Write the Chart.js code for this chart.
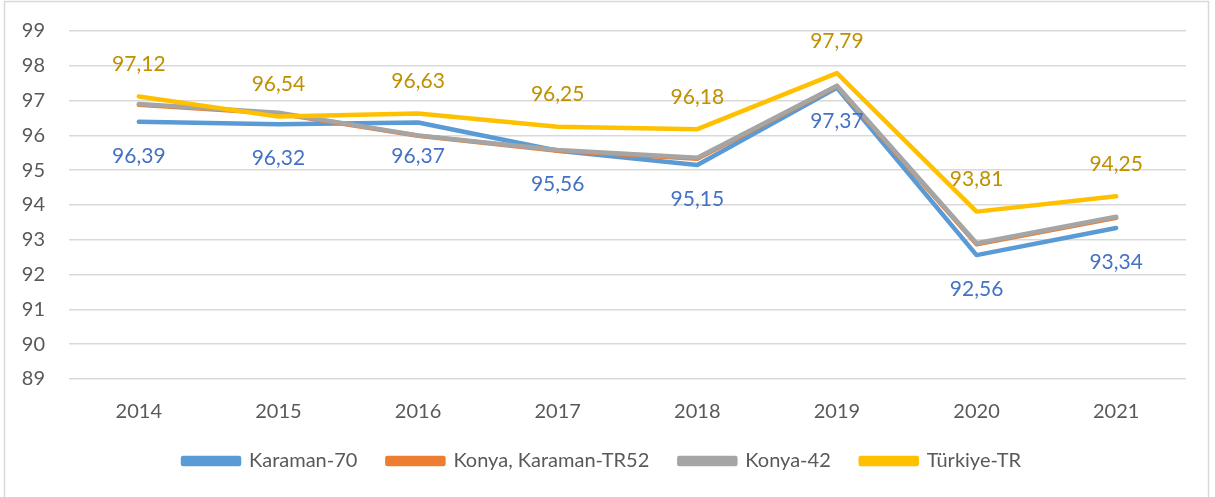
<!DOCTYPE html>
<html>
<head>
<meta charset="utf-8">
<script src="https://cdn.jsdelivr.net/npm/chart.js@4/dist/chart.umd.min.js"></script>
<style>
  html, body { margin: 0; padding: 0; background: #fff; }
  #wrap { width: 1215px; height: 497px; }
</style>
</head>
<body>
<div id="wrap"><canvas id="chart"></canvas></div>
<script>
const years = ["2014", "2015", "2016", "2017", "2018", "2019", "2020", "2021"];
const karaman = [96.39, 96.32, 96.37, 95.56, 95.15, 97.37, 92.56, 93.34];
const tr52 = [96.88, 96.63, 95.99, 95.56, 95.33, 97.41, 92.87, 93.63];
const konya = [96.90, 96.65, 96.00, 95.58, 95.36, 97.43, 92.90, 93.66];
const turkiye = [97.12, 96.54, 96.63, 96.25, 96.18, 97.79, 93.81, 94.25];

const FONT = "Lato, 'Open Sans', sans-serif";

/* white page + thin frame round the whole chart */
const frame = {
  id: "frame",
  beforeDraw(chart) {
    const c = chart.ctx;
    c.save();
    c.fillStyle = "#fff";
    c.fillRect(0, 0, chart.width, chart.height);
    c.strokeStyle = "#d9d9d9";
    c.lineWidth = 1.5;
    c.strokeRect(4.5, 1.5, 1204, 500);
    c.restore();
  }
};

/* value labels, above or below the points, comma decimals */
const valueLabels = {
  id: "valueLabels",
  afterDatasetsDraw(chart) {
    const c = chart.ctx;
    c.save();
    c.font = "21px " + FONT;
    c.textAlign = "center";
    c.textBaseline = "middle";
    chart.data.datasets.forEach((ds, i) => {
      if (!ds.labelPos) return;
      const meta = chart.getDatasetMeta(i);
      c.fillStyle = ds.labelColor;
      meta.data.forEach((pt, j) => {
        const txt = ds.data[j].toFixed(2).replace(".", ",");
        const dy = ds.labelPos === "above" ? -32 : 34;
        c.fillText(txt, pt.x, pt.y + dy);
      });
    });
    c.restore();
  }
};

function line(label, data, color, order) {
  return {
    label, data,
    borderColor: color,
    backgroundColor: color,
    borderWidth: 4.5,
    borderCapStyle: "round",
    borderJoinStyle: "round",
    pointRadius: 0,
    tension: 0,
    order
  };
}

const datasets = [
  Object.assign(line("Karaman-70", karaman, "#5b9bd5", 4), { labelPos: "below", labelColor: "#4472c4" }),
  line("Konya, Karaman-TR52", tr52, "#ed7d31", 3),
  line("Konya-42", konya, "#a5a5a5", 2),
  Object.assign(line("Türkiye-TR", turkiye, "#ffc000", 1), { labelPos: "above", labelColor: "#bf9000" })
];

new Chart(document.getElementById("chart"), {
  type: "line",
  data: { labels: years, datasets },
  plugins: [frame, valueLabels],
  options: {
    responsive: true,
    maintainAspectRatio: false,
    animation: false,
    layout: { padding: { left: 18, right: 29, top: 31, bottom: 16 } },
    plugins: {
      tooltip: { enabled: false },
      legend: {
        position: "bottom",
        labels: {
          sort: (a, b) => a.datasetIndex - b.datasetIndex,
          boxWidth: 56,
          boxHeight: 6,
          padding: 30,
          color: "#595959",
          font: { family: FONT, size: 20 }
        }
      }
    },
    scales: {
      x: {
        offset: true,
        grid: { display: false },
        border: { display: false },
        ticks: { color: "#595959", padding: 13, font: { family: FONT, size: 20 } },
        afterFit: s => { s.height -= 16; }
      },
      y: {
        min: 89,
        max: 99,
        ticks: { stepSize: 1, color: "#595959", padding: 24, font: { family: FONT, size: 20 } },
        grid: { color: "#d9d9d9", lineWidth: 1.5, drawTicks: false },
        border: { display: false },
        afterFit: s => { s.width = 51; s.paddingTop = 0; s.paddingBottom = 0; }
      }
    }
  }
});
</script>
</body>
</html>
